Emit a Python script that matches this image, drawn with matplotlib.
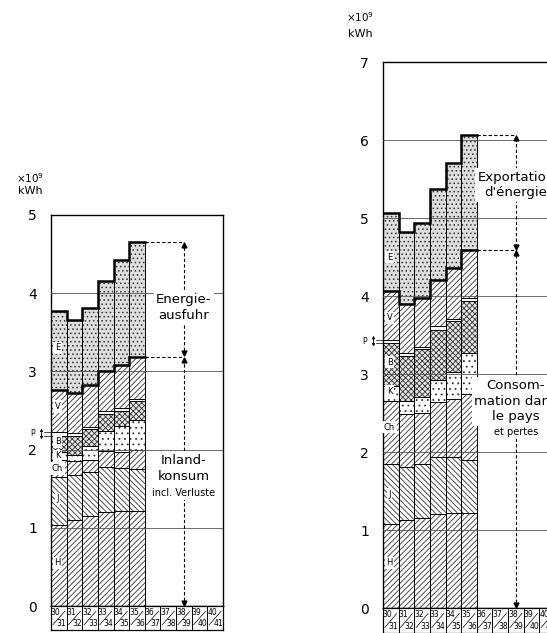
import matplotlib.pyplot as plt
import numpy as np

plt.rcParams['font.family'] = 'DejaVu Sans'
plt.rcParams['hatch.linewidth'] = 0.6

years_top = ["30", "31", "32", "33", "34", "35", "36", "37", "38", "39", "40"]
years_bot = ["31", "32", "33", "34", "35", "36", "37", "38", "39", "40", "41"]

layer_names = ["H", "J", "Ch", "K", "B", "P", "V", "E"]
layer_hatch = ["//////", "\\\\\\\\\\\\", "//////", "...", "xxxxxx", "", "//////", "...."]
layer_fill = ["white", "white", "white", "white", "#e6e6e6", "white", "white", "#dedede"]

# left panel (German), 10^9 kWh per layer, years 1930/31 .. 1935/36
de_H = [1.04, 1.10, 1.15, 1.20, 1.21, 1.22]
de_J = [0.61, 0.58, 0.56, 0.58, 0.56, 0.53]
de_Ch = [0.22, 0.17, 0.16, 0.20, 0.20, 0.25]
de_K = [0.10, 0.08, 0.18, 0.26, 0.33, 0.38]
de_B = [0.21, 0.25, 0.21, 0.22, 0.20, 0.24]
de_P = [0.04, 0.03, 0.03, 0.03, 0.03, 0.03]
de_V = [0.54, 0.51, 0.54, 0.52, 0.55, 0.54]
de_E = [1.01, 0.94, 0.98, 1.14, 1.35, 1.46]

# right panel (French)
fr_H = [1.08, 1.13, 1.16, 1.21, 1.22, 1.22]
fr_J = [0.77, 0.68, 0.69, 0.73, 0.71, 0.68]
fr_Ch = [0.81, 0.68, 0.65, 0.70, 0.75, 0.84]
fr_K = [0.18, 0.16, 0.21, 0.28, 0.35, 0.53]
fr_B = [0.56, 0.58, 0.61, 0.64, 0.65, 0.66]
fr_P = [0.04, 0.04, 0.03, 0.05, 0.03, 0.04]
fr_V = [0.62, 0.63, 0.62, 0.60, 0.65, 0.62]
fr_E = [1.01, 0.92, 0.97, 1.16, 1.35, 1.47]

W, H = 547, 633
fig = plt.figure(figsize=(W / 100, H / 100), dpi=100)


def box(x0, y0, x1, y1):
    return [x0 / W, 1 - y1 / H, (x1 - x0) / W, (y1 - y0) / H]


def draw_panel(ax, lab, layers, ymax, label_pos, export_text, home_text, home_small):
    n = len(layers[0])
    x = np.arange(n)
    bottom = np.zeros(n)
    tops = []
    for vals, hatch, fc in zip(layers, layer_hatch, layer_fill):
        vals = np.array(vals)
        ax.bar(x, vals, width=1, bottom=bottom, align='edge', color=fc,
               edgecolor='#333333', hatch=hatch, linewidth=0, zorder=2)
        ax.bar(x, vals, width=1, bottom=bottom, align='edge', fill=False,
               edgecolor='black', linewidth=0.7, zorder=3)
        bottom = bottom + vals
        tops.append(bottom.copy())

    edges = np.arange(n + 1)
    for t in (tops[6], tops[7]):
        ax.plot(edges, np.append(t, t[-1]), drawstyle='steps-post',
                color='black', lw=1.8, zorder=5, solid_joinstyle='miter')

    for v in range(1, ymax):
        ax.axhline(v, color='#555555', lw=0.6, zorder=4)

    # layer letters in the first column
    for name, yv in zip(layer_names, label_pos):
        if yv is None:
            continue
        ax.text(0.42, yv, name, fontsize=6, ha='center', va='center', zorder=6,
                bbox=dict(boxstyle='square,pad=0.2', fc='white', ec='none'))

    # dimension arrows
    xa = 8.5
    total = tops[7][-1]
    home = tops[6][-1]
    ax.plot([xa, xa], [0, total], ls=(0, (3, 2)), color='black', lw=0.8, zorder=4)
    for yv in (total, home):
        ax.plot([n, xa], [yv, yv], ls=(0, (3, 2)), color='black', lw=0.8, zorder=4)
    ax.plot([xa], [total - 0.04], marker='^', ms=3.5, color='black', zorder=5)
    ax.plot([xa], [home + 0.04], marker='v', ms=3.5, color='black', zorder=5)
    ax.plot([xa], [home - 0.04], marker='^', ms=3.5, color='black', zorder=5)
    ax.plot([xa], [0.04], marker='v', ms=3.5, color='black', zorder=5)

    ax.text(xa, export_text[1], export_text[0], fontsize=9.5, ha='center', va='center',
            linespacing=1.25, zorder=6,
            bbox=dict(boxstyle='square,pad=0.2', fc='white', ec='none'))
    ax.text(xa, home_text[1], home_text[0], fontsize=9.5, ha='center', va='center',
            linespacing=1.25, zorder=6,
            bbox=dict(boxstyle='square,pad=0.2', fc='white', ec='none'))
    ax.text(xa, home_small[1], home_small[0], fontsize=7, ha='center', va='center',
            linespacing=1.25, zorder=6,
            bbox=dict(boxstyle='square,pad=0.2', fc='white', ec='none'))

    # P marker beside the axis
    p_lo, p_hi = tops[4][0], tops[5][0]
    tr = ax.get_yaxis_transform()
    ax.text(-0.105, (p_lo + p_hi) / 2, "P", fontsize=5.5, ha='center', va='center',
            transform=tr)
    ax.annotate('', xy=(-0.055, p_hi + 0.05), xytext=(-0.055, p_hi - 0.02),
                xycoords=tr, textcoords=tr,
                arrowprops=dict(arrowstyle='-|>', lw=0.6, color='black',
                                mutation_scale=4, shrinkA=0, shrinkB=0))
    ax.annotate('', xy=(-0.055, p_lo - 0.05), xytext=(-0.055, p_lo + 0.02),
                xycoords=tr, textcoords=tr,
                arrowprops=dict(arrowstyle='-|>', lw=0.6, color='black',
                                mutation_scale=4, shrinkA=0, shrinkB=0))
    for yv in (p_lo, p_hi):
        ax.plot([-0.04, 0], [yv, yv], color='black', lw=0.5, transform=tr,
                clip_on=False)

    ax.set_xlim(0, 11)
    ax.set_ylim(0, ymax)
    ax.set_xticks([])
    ax.set_yticks(range(ymax + 1))
    ax.tick_params(axis='y', length=0, pad=10, labelsize=10)
    for s in ax.spines.values():
        s.set_linewidth(1.0)

    # year cells under the plot
    lab.set_xlim(0, 11)
    lab.set_ylim(0, 1)
    lab.set_xticks([])
    lab.set_yticks([])
    for k, (a, b) in enumerate(zip(years_top, years_bot)):
        lab.axvline(k, color='black', lw=0.7)
        lab.plot([k + 0.12, k + 0.88], [0.22, 0.78], color='black', lw=0.5)
        lab.text(k + 0.3, 0.74, a, fontsize=5.5, ha='center', va='center')
        lab.text(k + 0.68, 0.26, b, fontsize=5.5, ha='center', va='center')
    for s in lab.spines.values():
        s.set_linewidth(0.9)


ax1 = fig.add_axes(box(51, 215, 223, 606))
lab1 = fig.add_axes(box(51, 606, 223, 630))
draw_panel(ax1, lab1, [de_H, de_J, de_Ch, de_K, de_B, de_P, de_V, de_E], 5,
           [0.55, 1.37, 1.76, 1.92, 2.1, None, 2.55, 3.3],
           ("Energie-\nausfuhr", 3.82), ("Inland-\nkonsum", 1.76),
           ("incl. Verluste", 1.44))
fig.text(30 / W, 1 - 178 / H, "×10$^9$", fontsize=7.5, ha='center', va='center')
fig.text(30 / W, 1 - 191 / H, "kWh", fontsize=8, ha='center', va='center')

ax2 = fig.add_axes(box(383, 62, 555, 608))
lab2 = fig.add_axes(box(383, 608, 555, 633))
draw_panel(ax2, lab2, [fr_H, fr_J, fr_Ch, fr_K, fr_B, fr_P, fr_V, fr_E], 7,
           [0.58, 1.46, 2.32, 2.78, 3.15, None, 3.72, 4.5],
           ("Exportation\nd'énergie", 5.42), ("Consom-\nmation dans\nle pays", 2.65),
           ("et pertes", 2.26))
fig.text(360 / W, 1 - 17 / H, "×10$^9$", fontsize=7.5, ha='center', va='center')
fig.text(360 / W, 1 - 34 / H, "kWh", fontsize=8, ha='center', va='center')

fig.savefig("out.png", dpi=100)
